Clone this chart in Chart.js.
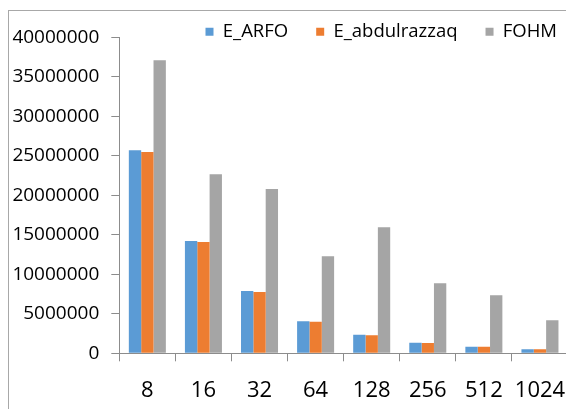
<!DOCTYPE html>
<html>
<head>
<meta charset="utf-8">
<script src="https://cdn.jsdelivr.net/npm/chart.js@4/dist/chart.umd.min.js"></script>
<style>
  html, body { margin: 0; padding: 0; background: #fff; overflow: hidden; }
  #wrap { position: relative; width: 566px; height: 409px; overflow: hidden; }
  #c { position: absolute; left: 0; top: 0; }
  #frame { position: absolute; left: 8px; top: 10px; width: 700px; height: 500px;
           border: 1px solid #a8a8a8; pointer-events: none; }
</style>
</head>
<body>
<div id="wrap">
  <canvas id="c" width="600" height="409"></canvas>
  <div id="frame"></div>
</div>
<script>
// Problem sizes on the x axis
const categories = ['8', '16', '32', '64', '128', '256', '512', '1024'];

// Measured values per method
const eArfo = [25700000, 14200000, 7890000, 4050000, 2360000, 1350000, 840000, 500000];
const eAbdulrazzaq = [25480000, 14090000, 7760000, 4000000, 2280000, 1300000, 840000, 500000];
const fohm = [37090000, 22660000, 20800000, 12280000, 15950000, 8860000, 7340000, 4180000];

// Y axis range and step
const yMin = 0;
const yMax = 40000000;
const yStep = 5000000;

const AXIS_COLOR = '#8c8c8c';
const TEXT_COLOR = '#000000';
const FONT = "'Open Sans', 'Noto Sans', sans-serif";

// Keep the legend from reserving its full padded height above the plot,
// while still letting its text draw below that reduced box.
const legendHeight = {
  id: 'legendHeight',
  beforeInit(chart) {
    const legend = chart.legend;
    if (!legend) return;
    const fit = legend.fit;
    legend.fit = function () {
      fit.call(this);
      this.height = 42.8;
    };
    const draw = legend.draw;
    legend.draw = function () {
      const bottom = this.bottom;
      this.bottom = bottom + 20;
      draw.call(this);
      this.bottom = bottom;
    };
  }
};

new Chart(document.getElementById('c'), {
  type: 'bar',
  data: {
    labels: categories,
    datasets: [
      { label: 'E_ARFO', data: eArfo, backgroundColor: '#5B9BD5' },
      { label: 'E_abdulrazzaq', data: eAbdulrazzaq, backgroundColor: '#ED7D31' },
      { label: 'FOHM', data: fohm, backgroundColor: '#A5A5A5' }
    ]
  },
  options: {
    responsive: false,
    animation: false,
    devicePixelRatio: 1,
    layout: { padding: { left: 0, right: 15, top: -5.5, bottom: 0 } },
    datasets: {
      bar: { categoryPercentage: 0.66, barPercentage: 1.0, borderWidth: 0 }
    },
    plugins: {
      legend: {
        position: 'top',
        align: 'end',
        labels: {
          boxWidth: 8,
          boxHeight: 8,
          padding: 28,
          color: TEXT_COLOR,
          font: { family: FONT, size: 18.5 }
        }
      },
      tooltip: { enabled: false }
    },
    scales: {
      x: {
        grid: { display: true, drawOnChartArea: false, offset: true, tickLength: 8, color: AXIS_COLOR },
        border: { display: true, color: AXIS_COLOR },
        ticks: { color: TEXT_COLOR, padding: 16, maxRotation: 0, font: { family: FONT, size: 22 } },
        afterFit(scale) { scale.height = 55.7; }
      },
      y: {
        min: yMin,
        max: yMax,
        grid: { display: true, drawOnChartArea: false, tickLength: 8, color: AXIS_COLOR },
        border: { display: true, color: AXIS_COLOR },
        ticks: {
          stepSize: yStep,
          color: TEXT_COLOR,
          padding: 12,
          font: { family: FONT, size: 19 },
          callback: (v) => String(v)
        },
        afterFit(scale) { scale.width = 119.3; }
      },
      yRight: {
        position: 'right',
        display: true,
        grid: { display: false },
        border: { display: false },
        ticks: { display: false },
        afterFit(scale) { scale.width = 17; }
      }
    }
  },
  plugins: [legendHeight]
});
</script>
</body>
</html>
